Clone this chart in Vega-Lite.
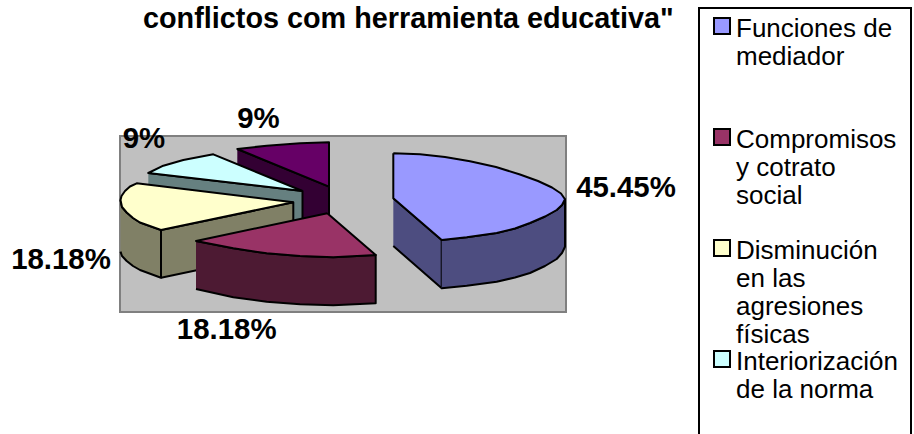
{
"$schema":"https://vega.github.io/schema/vega-lite/v6.json",
"width":914,"height":434,"padding":0,"autosize":{"type":"none"},
"background":"white",
"view":{"stroke":null},
"title":{"text":"conflictos com herramienta educativa\"","anchor":"start","frame":"group","dx":143,"dy":57,"offset":0,"baseline":"alphabetic","font":"Liberation Sans","fontSize":28.8,"fontWeight":"bold","color":"black"},
"config":{"font":"Liberation Sans"},
"datasets":{
"pared":[{"x":120,"x2":566,"y":136,"y2":312}],
"marco":[{"x":699,"x2":911,"y":8,"y2":450}],
"rotulos":[
{"x":626,"y":197,"rotulo":"45.45%"},
{"x":226.7,"y":339,"rotulo":"18.18%"},
{"x":61,"y":269,"rotulo":"18.18%"},
{"x":144,"y":148,"rotulo":"9%"},
{"x":258.5,"y":128,"rotulo":"9%"}],
"lados":[
{"categoria":"Otros","cara":"p1","n":1,"x":237.3,"y":149},{"categoria":"Otros","cara":"p1","n":2,"x":329,"y":186.7},{"categoria":"Otros","cara":"p1","n":3,"x":329,"y":235},{"categoria":"Otros","cara":"p1","n":4,"x":237.3,"y":197},
{"categoria":"Interiorización de la norma","cara":"c1","n":1,"x":148.3,"y":173},{"categoria":"Interiorización de la norma","cara":"c1","n":2,"x":302.5,"y":191},{"categoria":"Interiorización de la norma","cara":"c1","n":3,"x":302.5,"y":240},{"categoria":"Interiorización de la norma","cara":"c1","n":4,"x":148.3,"y":222},
{"categoria":"Disminución en las agresiones físicas","cara":"y1","n":1,"x":161,"y":230},{"categoria":"Disminución en las agresiones físicas","cara":"y1","n":2,"x":293.3,"y":202.3},{"categoria":"Disminución en las agresiones físicas","cara":"y1","n":3,"x":293.3,"y":250},{"categoria":"Disminución en las agresiones físicas","cara":"y1","n":4,"x":161,"y":277.7},
{"categoria":"Disminución en las agresiones físicas","cara":"y2","n":1,"x":120.5,"y":200},{"categoria":"Disminución en las agresiones físicas","cara":"y2","n":2,"x":122,"y":207},{"categoria":"Disminución en las agresiones físicas","cara":"y2","n":3,"x":126.7,"y":212.5},{"categoria":"Disminución en las agresiones físicas","cara":"y2","n":4,"x":133,"y":218},{"categoria":"Disminución en las agresiones físicas","cara":"y2","n":5,"x":140,"y":222.5},{"categoria":"Disminución en las agresiones físicas","cara":"y2","n":6,"x":161,"y":230},{"categoria":"Disminución en las agresiones físicas","cara":"y2","n":7,"x":161,"y":277.7},{"categoria":"Disminución en las agresiones físicas","cara":"y2","n":8,"x":140,"y":270},{"categoria":"Disminución en las agresiones físicas","cara":"y2","n":9,"x":133,"y":266},{"categoria":"Disminución en las agresiones físicas","cara":"y2","n":10,"x":126.7,"y":261},{"categoria":"Disminución en las agresiones físicas","cara":"y2","n":11,"x":122,"y":256},{"categoria":"Disminución en las agresiones físicas","cara":"y2","n":12,"x":120.5,"y":251.7},
{"categoria":"Compromisos y cotrato social","cara":"r1","n":1,"x":196,"y":241},{"categoria":"Compromisos y cotrato social","cara":"r1","n":2,"x":233.3,"y":248.3},{"categoria":"Compromisos y cotrato social","cara":"r1","n":3,"x":266.7,"y":253.3},{"categoria":"Compromisos y cotrato social","cara":"r1","n":4,"x":300,"y":256},{"categoria":"Compromisos y cotrato social","cara":"r1","n":5,"x":333.3,"y":257.3},{"categoria":"Compromisos y cotrato social","cara":"r1","n":6,"x":375.7,"y":255},{"categoria":"Compromisos y cotrato social","cara":"r1","n":7,"x":375.7,"y":303.3},{"categoria":"Compromisos y cotrato social","cara":"r1","n":8,"x":333.3,"y":305.3},{"categoria":"Compromisos y cotrato social","cara":"r1","n":9,"x":300,"y":304.3},{"categoria":"Compromisos y cotrato social","cara":"r1","n":10,"x":266.7,"y":301.7},{"categoria":"Compromisos y cotrato social","cara":"r1","n":11,"x":233.3,"y":297.3},{"categoria":"Compromisos y cotrato social","cara":"r1","n":12,"x":196,"y":289},
{"categoria":"Funciones de mediador","cara":"b1","n":1,"x":393.3,"y":198.3},{"categoria":"Funciones de mediador","cara":"b1","n":2,"x":441.7,"y":240},{"categoria":"Funciones de mediador","cara":"b1","n":3,"x":441.7,"y":288.3},{"categoria":"Funciones de mediador","cara":"b1","n":4,"x":393.3,"y":246},
{"categoria":"Funciones de mediador","cara":"b2","n":1,"x":441.7,"y":240},{"categoria":"Funciones de mediador","cara":"b2","n":2,"x":466.7,"y":237.3},{"categoria":"Funciones de mediador","cara":"b2","n":3,"x":496.7,"y":233},{"categoria":"Funciones de mediador","cara":"b2","n":4,"x":515,"y":228.5},{"categoria":"Funciones de mediador","cara":"b2","n":5,"x":530,"y":223},{"categoria":"Funciones de mediador","cara":"b2","n":6,"x":545,"y":216.5},{"categoria":"Funciones de mediador","cara":"b2","n":7,"x":556.7,"y":210},{"categoria":"Funciones de mediador","cara":"b2","n":8,"x":562,"y":205},{"categoria":"Funciones de mediador","cara":"b2","n":9,"x":565,"y":199.3},{"categoria":"Funciones de mediador","cara":"b2","n":10,"x":565,"y":246.7},{"categoria":"Funciones de mediador","cara":"b2","n":11,"x":562,"y":253},{"categoria":"Funciones de mediador","cara":"b2","n":12,"x":556.7,"y":259},{"categoria":"Funciones de mediador","cara":"b2","n":13,"x":545,"y":266},{"categoria":"Funciones de mediador","cara":"b2","n":14,"x":530,"y":273},{"categoria":"Funciones de mediador","cara":"b2","n":15,"x":515,"y":277.5},{"categoria":"Funciones de mediador","cara":"b2","n":16,"x":496.7,"y":281.7},{"categoria":"Funciones de mediador","cara":"b2","n":17,"x":466.7,"y":285.7},{"categoria":"Funciones de mediador","cara":"b2","n":18,"x":441.7,"y":288.3}
],
"tapas":[
{"categoria":"Funciones de mediador","n":1,"x":393.3,"y":153.3},{"categoria":"Funciones de mediador","n":2,"x":420,"y":154.3},{"categoria":"Funciones de mediador","n":3,"x":445,"y":157},{"categoria":"Funciones de mediador","n":4,"x":470,"y":161.2},{"categoria":"Funciones de mediador","n":5,"x":496,"y":167},{"categoria":"Funciones de mediador","n":6,"x":520,"y":174.5},{"categoria":"Funciones de mediador","n":7,"x":538,"y":181},{"categoria":"Funciones de mediador","n":8,"x":552,"y":187.5},{"categoria":"Funciones de mediador","n":9,"x":561,"y":193.5},{"categoria":"Funciones de mediador","n":10,"x":565,"y":199.3},{"categoria":"Funciones de mediador","n":11,"x":562,"y":205},{"categoria":"Funciones de mediador","n":12,"x":556.7,"y":210},{"categoria":"Funciones de mediador","n":13,"x":545,"y":216.5},{"categoria":"Funciones de mediador","n":14,"x":530,"y":223},{"categoria":"Funciones de mediador","n":15,"x":515,"y":228.5},{"categoria":"Funciones de mediador","n":16,"x":496.7,"y":233},{"categoria":"Funciones de mediador","n":17,"x":466.7,"y":237.3},{"categoria":"Funciones de mediador","n":18,"x":441.7,"y":240},{"categoria":"Funciones de mediador","n":19,"x":393.3,"y":198.3},{"categoria":"Funciones de mediador","n":20,"x":393.3,"y":153.3},
{"categoria":"Compromisos y cotrato social","n":1,"x":327.3,"y":213.3},{"categoria":"Compromisos y cotrato social","n":2,"x":375.7,"y":255},{"categoria":"Compromisos y cotrato social","n":3,"x":333.3,"y":257.3},{"categoria":"Compromisos y cotrato social","n":4,"x":300,"y":256},{"categoria":"Compromisos y cotrato social","n":5,"x":266.7,"y":253.3},{"categoria":"Compromisos y cotrato social","n":6,"x":233.3,"y":248.3},{"categoria":"Compromisos y cotrato social","n":7,"x":196,"y":241},{"categoria":"Compromisos y cotrato social","n":8,"x":327.3,"y":213.3},
{"categoria":"Disminución en las agresiones físicas","n":1,"x":293.3,"y":202.3},{"categoria":"Disminución en las agresiones físicas","n":2,"x":136.7,"y":183.3},{"categoria":"Disminución en las agresiones físicas","n":3,"x":130,"y":186.5},{"categoria":"Disminución en las agresiones físicas","n":4,"x":125,"y":191},{"categoria":"Disminución en las agresiones físicas","n":5,"x":121.5,"y":196},{"categoria":"Disminución en las agresiones físicas","n":6,"x":120.5,"y":200},{"categoria":"Disminución en las agresiones físicas","n":7,"x":122,"y":207},{"categoria":"Disminución en las agresiones físicas","n":8,"x":126.7,"y":212.5},{"categoria":"Disminución en las agresiones físicas","n":9,"x":133,"y":218},{"categoria":"Disminución en las agresiones físicas","n":10,"x":140,"y":222.5},{"categoria":"Disminución en las agresiones físicas","n":11,"x":161,"y":230},{"categoria":"Disminución en las agresiones físicas","n":12,"x":293.3,"y":202.3},
{"categoria":"Interiorización de la norma","n":1,"x":302.5,"y":191},{"categoria":"Interiorización de la norma","n":2,"x":213.3,"y":154.3},{"categoria":"Interiorización de la norma","n":3,"x":183.3,"y":160},{"categoria":"Interiorización de la norma","n":4,"x":163.3,"y":165.7},{"categoria":"Interiorización de la norma","n":5,"x":148.3,"y":173},{"categoria":"Interiorización de la norma","n":6,"x":302.5,"y":191},
{"categoria":"Otros","n":1,"x":329,"y":186.7},{"categoria":"Otros","n":2,"x":329,"y":142.3},{"categoria":"Otros","n":3,"x":300,"y":143.3},{"categoria":"Otros","n":4,"x":266.7,"y":145.7},{"categoria":"Otros","n":5,"x":237.3,"y":149},{"categoria":"Otros","n":6,"x":329,"y":186.7}
]
},
"layer":[
{"data":{"name":"marco"},"mark":{"type":"rect","fill":"white","stroke":"black","strokeWidth":2},
"encoding":{"x":{"field":"x","type":"quantitative","scale":{"domain":[0,914]},"axis":null},"x2":{"field":"x2"},"y":{"field":"y","type":"quantitative","scale":{"domain":[0,434],"reverse":true},"axis":null},"y2":{"field":"y2"}}},
{"data":{"name":"pared"},"mark":{"type":"rect","fill":"#C0C0C0","stroke":"#808080","strokeWidth":2},
"encoding":{"x":{"field":"x","type":"quantitative","scale":{"domain":[0,914]},"axis":null},"x2":{"field":"x2"},"y":{"field":"y","type":"quantitative","scale":{"domain":[0,434],"reverse":true},"axis":null},"y2":{"field":"y2"}}},
{"data":{"name":"lados"},"mark":{"type":"line","stroke":"black","strokeWidth":2,"strokeJoin":"round"},
"encoding":{"x":{"field":"x","type":"quantitative","scale":{"domain":[0,914]},"axis":null},"y":{"field":"y","type":"quantitative","scale":{"domain":[0,434],"reverse":true},"axis":null},"order":{"field":"n"},"detail":{"field":"cara"},
"fill":{"field":"categoria","type":"nominal","legend":null,"scale":{"domain":["Funciones de mediador","Compromisos y cotrato social","Disminución en las agresiones físicas","Interiorización de la norma","Otros"],"range":["#4D4D80","#4D1A33","#808066","#668080","#330033"]}}}},
{"data":{"name":"tapas"},"mark":{"type":"line","stroke":"black","strokeWidth":2,"strokeJoin":"round"},
"encoding":{"x":{"field":"x","type":"quantitative","scale":{"domain":[0,914]},"axis":null},"y":{"field":"y","type":"quantitative","scale":{"domain":[0,434],"reverse":true},"axis":null},"order":{"field":"n"},
"fill":{"field":"categoria","type":"nominal","scale":{"domain":["Funciones de mediador","Compromisos y cotrato social","Disminución en las agresiones físicas","Interiorización de la norma","Otros"],"range":["#9999FF","#993366","#FFFFCC","#CCFFFF","#660066"]},
"legend":{"title":null,"orient":"none","legendX":709,"legendY":15,"padding":0,"symbolType":"M-1,0.3125H1V2.3125H-1Z","symbolSize":256,"symbolStrokeColor":"black","symbolStrokeWidth":2,"symbolOpacity":1,"labelFont":"Liberation Sans","labelFontSize":26,"labelColor":"black","labelLimit":300,"labelBaseline":"top","labelOffset":1,"clipHeight":1,"rowPadding":0,
"labelExpr":"datum.label=='Funciones de mediador'?['Funciones de','mediador','','']:datum.label=='Compromisos y cotrato social'?['Compromisos','y cotrato','social','']:datum.label=='Disminución en las agresiones físicas'?['Disminución','en las','agresiones','físicas']:datum.label=='Interiorización de la norma'?['Interiorización','de la norma','','']:[datum.label,'','','']"}}}},
{"data":{"name":"rotulos"},"mark":{"type":"text","font":"Liberation Sans","fontSize":29.4,"fontWeight":"bold","color":"black","align":"center","baseline":"alphabetic"},
"encoding":{"x":{"field":"x","type":"quantitative","scale":{"domain":[0,914]},"axis":null},"y":{"field":"y","type":"quantitative","scale":{"domain":[0,434],"reverse":true},"axis":null},"text":{"field":"rotulo"}}}
],
"resolve":{"scale":{"fill":"independent"}}
}
